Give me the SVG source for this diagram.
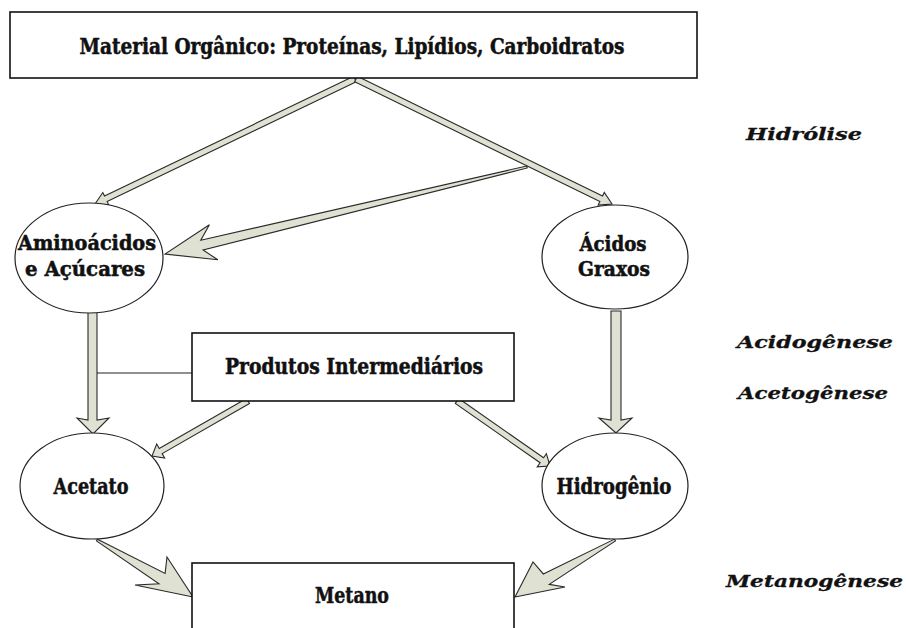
<svg xmlns="http://www.w3.org/2000/svg" width="906" height="628" viewBox="0 0 906 628">
<style>
.box{fill:#fff;stroke:#111;stroke-width:1.6}
.ell{fill:#fff;stroke:#222;stroke-width:1.2}
.arr{fill:#dfe1d2;stroke:#2a2a2a;stroke-width:1.1;stroke-linejoin:miter}
.lbl{font-family:"DejaVu Serif Condensed","DejaVu Serif","Liberation Serif",serif;font-weight:bold;font-stretch:condensed;fill:#111;stroke:#111;stroke-width:0.5;text-anchor:middle}
.stage{font-family:"DejaVu Serif","Liberation Serif",serif;font-weight:bold;font-style:italic;fill:#111;stroke:#111;stroke-width:0.3;font-size:17px}
.ln{stroke:#222;stroke-width:1.2;fill:none}
</style>
<rect width="906" height="628" fill="#fff"/>
<g id="connectors">
<polygon class="arr" points="353.70,76.30 104.51,196.10 102.78,192.49 95,204 108.84,205.11 107.11,201.50 356.30,81.70"/>
<polygon class="arr" points="357.32,76.30 602.54,196.03 604.29,192.44 612,204 598.15,205.02 599.90,201.43 354.68,81.70"/>
<polygon class="arr" points="526.77,166.03 200.78,240.26 209.4,224.8 165,254 217.8,259.8 203.12,249.98 527.23,167.97"/>
<polygon class="arr" points="88,312 88,420 77,418 93,434 109,418 97,420 97,312"/>
<polygon class="arr" points="611,311 611,420 599,418 616,433 632,418 621,420 621,311"/>
<polygon class="arr" points="246.51,398.40 159.19,448.43 156.70,444.09 152,456 164.66,457.97 162.17,453.63 249.49,403.60"/>
<polygon class="arr" points="458.72,398.54 543.53,457.81 546.39,453.71 550,466 537.23,466.83 540.09,462.73 455.28,403.46"/>
<polygon class="arr" points="97.51,539.14 165.09,573.45 167,557 193,597 135,585 158.97,583.77 96.49,540.86"/>
<polygon class="arr" points="614.50,539.13 543.31,573.96 533,562 515,597 565,587 549.25,584.38 615.50,540.87"/>
<line class="ln" x1="97" y1="373" x2="192" y2="373"/>
</g>
<g id="material">
<rect class="box" x="10" y="12" width="687" height="66"/>
<text class="lbl" x="352" y="54" font-size="23" textLength="545" lengthAdjust="spacingAndGlyphs">Material Orgânico: Proteínas, Lipídios, Carboidratos</text>
</g>
<g id="aminoacidos">
<ellipse class="ell" cx="89" cy="258" rx="74" ry="55"/>
<text class="lbl" x="87" y="250" font-size="21" textLength="138" lengthAdjust="spacingAndGlyphs">Aminoácidos</text>
<text class="lbl" x="85" y="276" font-size="21" textLength="120" lengthAdjust="spacingAndGlyphs">e Açúcares</text>
</g>
<g id="acidos">
<ellipse class="ell" cx="615" cy="257" rx="73" ry="52"/>
<text class="lbl" x="613" y="251" font-size="21" textLength="67" lengthAdjust="spacingAndGlyphs">Ácidos</text>
<text class="lbl" x="614" y="276" font-size="21" textLength="72" lengthAdjust="spacingAndGlyphs">Graxos</text>
</g>
<g id="produtos">
<rect class="box" x="192" y="333" width="322" height="68"/>
<text class="lbl" x="354" y="374" font-size="22" textLength="258" lengthAdjust="spacingAndGlyphs">Produtos Intermediários</text>
</g>
<g id="acetato">
<ellipse class="ell" cx="92" cy="486" rx="72" ry="53"/>
<text class="lbl" x="91" y="494" font-size="22" textLength="75" lengthAdjust="spacingAndGlyphs">Acetato</text>
</g>
<g id="hidrogenio">
<ellipse class="ell" cx="615" cy="486" rx="73" ry="53"/>
<text class="lbl" x="614" y="494" font-size="22" textLength="115" lengthAdjust="spacingAndGlyphs">Hidrogênio</text>
</g>
<g id="metano">
<rect class="box" x="192" y="563" width="322" height="90"/>
<text class="lbl" x="352" y="603" font-size="22" textLength="74" lengthAdjust="spacingAndGlyphs">Metano</text>
</g>
<g id="stages">
<text class="stage" x="746" y="140" textLength="116" lengthAdjust="spacingAndGlyphs">Hidrólise</text>
<text class="stage" x="737" y="348" textLength="156" lengthAdjust="spacingAndGlyphs">Acidogênese</text>
<text class="stage" x="738" y="399" textLength="150" lengthAdjust="spacingAndGlyphs">Acetogênese</text>
<text class="stage" x="726" y="587" textLength="177" lengthAdjust="spacingAndGlyphs">Metanogênese</text>
</g>
</svg>
